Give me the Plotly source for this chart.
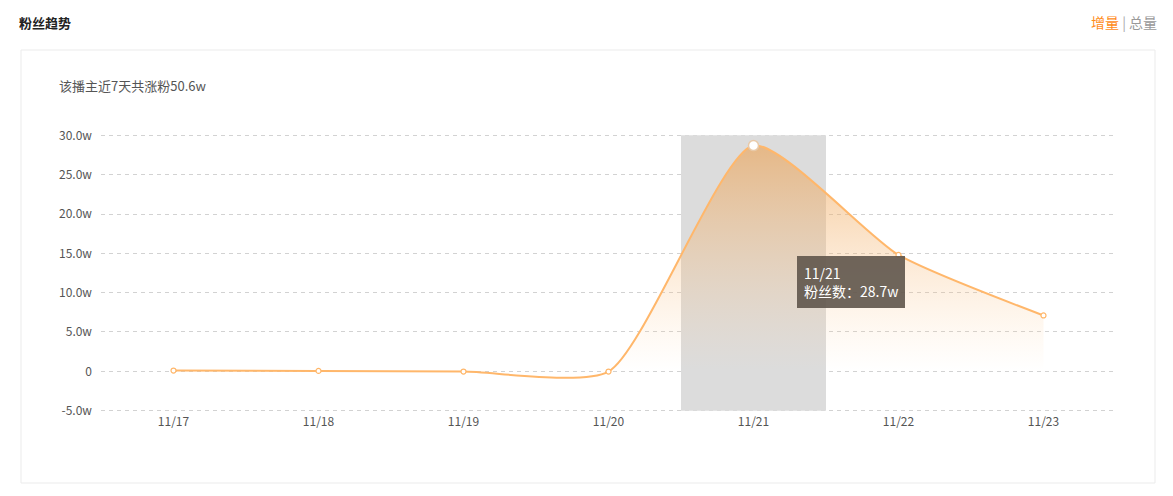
import plotly.graph_objects as go

categories = ["11/17", "11/18", "11/19", "11/20", "11/21", "11/22", "11/23"]
fans_gain = [0.1, 0.05, -0.03, -0.03, 28.7, 14.8, 7.1]   # unit: w (万)
y_ticks = [-5, 0, 5, 10, 15, 20, 25, 30]
y_tick_labels = ["-5.0w", "0", "5.0w", "10.0w", "15.0w", "20.0w", "25.0w", "30.0w"]
highlight_idx = 4

OFF = 8  # page body margin
W, H = 1173 - OFF, 496 - OFF
PL, PR, PT, PB = 101 - OFF, 1116 - OFF, 133 - OFF, 413 - OFF
FONT = "Noto Sans CJK SC, Noto Sans, sans-serif"


def px(xp):
    return (xp - OFF - PL) / (PR - PL)


def py(yp):
    return (PB - (yp - OFF)) / (PB - PT)


fig = go.Figure()

fig.add_trace(go.Scatter(
    x=list(range(len(categories))), y=fans_gain,
    mode="lines+markers",
    line=dict(color="#ffb76b", width=2, shape="spline", smoothing=0.6),
    marker=dict(size=5, color="white", line=dict(color="#ffb76b", width=1.2)),
    fill="tozeroy",
    fillgradient=dict(type="vertical", start=0, stop=30,
                      colorscale=[[0, "rgba(255,205,150,0)"], [1, "rgba(235,160,80,0.65)"]]),
    hoverinfo="skip",
))

# highlighted point
fig.add_trace(go.Scatter(
    x=[highlight_idx], y=[fans_gain[highlight_idx]], mode="markers",
    marker=dict(size=10, color="white", line=dict(color="#e8c9a8", width=1.5)),
    hoverinfo="skip",
))

# axis pointer shadow band
fig.add_shape(type="rect", xref="x", yref="y",
              x0=highlight_idx - 0.5, x1=highlight_idx + 0.5, y0=-5, y1=30,
              fillcolor="#dcdcdc", line=dict(width=0), layer="between")

# card border
fig.add_shape(type="rect", xref="paper", yref="paper",
              x0=px(21), x1=px(1155), y0=py(483), y1=py(50),
              line=dict(color="#ebebeb", width=1), fillcolor="rgba(0,0,0,0)", layer="below")

# tooltip
fig.add_annotation(
    x=4.3, y=14.6, xref="x", yref="y", xanchor="left", yanchor="top",
    text="11/21<br>粉丝数：28.7w", showarrow=False, align="left",
    font=dict(color="white", size=14, family=FONT),
    bgcolor="rgba(95,85,75,0.9)", borderpad=7, borderwidth=0,
)

# titles
fig.add_annotation(x=px(17), y=py(22), xref="paper", yref="paper", xanchor="left", yanchor="middle",
                   text="<b>粉丝趋势</b>", showarrow=False, font=dict(size=13, color="#222", family=FONT))
fig.add_annotation(x=px(1159), y=py(22), xref="paper", yref="paper", xanchor="right", yanchor="middle",
                   text="<span style='color:#ff8c1a'>增量</span> <span style='color:#aaa'>|</span> <span style='color:#999'>总量</span>",
                   showarrow=False, font=dict(size=14, family=FONT))
fig.add_annotation(x=px(57), y=py(86), xref="paper", yref="paper", xanchor="left", yanchor="middle",
                   text="该播主近7天共涨粉50.6w", showarrow=False, font=dict(size=13, color="#555", family=FONT))

fig.update_layout(
    width=W, height=H,
    margin=dict(l=PL, r=W - PR, t=PT, b=H - PB),
    paper_bgcolor="white", plot_bgcolor="white",
    showlegend=False,
    font=dict(family=FONT, color="#555", size=12),
    xaxis=dict(range=[-0.5, 6.5], tickvals=list(range(len(categories))), ticktext=categories,
               showgrid=False, zeroline=False, showline=False, ticks="", fixedrange=True,
               tickfont=dict(size=12, color="#555")),
    yaxis=dict(range=[-5.3, 30.3], tickvals=y_ticks, ticktext=y_tick_labels,
               showgrid=True, gridcolor="#d2d2d2", griddash="4px,4px", gridwidth=1,
               zeroline=False, showline=False, ticks="", ticklabelstandoff=8, fixedrange=True,
               tickfont=dict(size=12, color="#555")),
)

fig.write_html("out.html")
